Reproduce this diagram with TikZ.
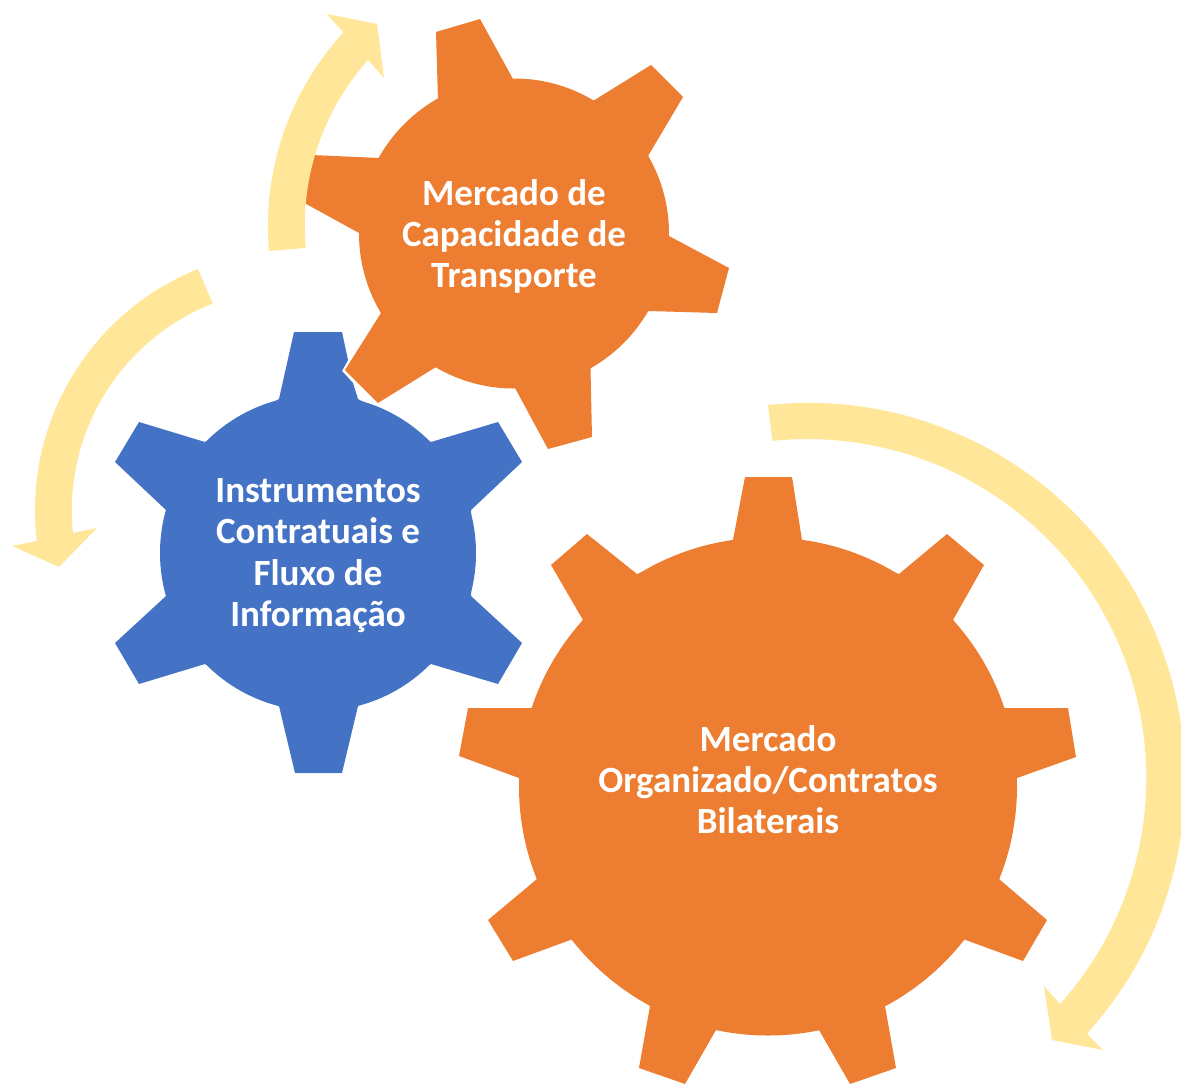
\documentclass[tikz,border=0pt]{standalone}
\usepackage{fontspec}
\setmainfont{Carlito}
\definecolor{gearorange}{HTML}{ED7D31}
\definecolor{gearblue}{HTML}{4472C4}
\definecolor{arrowgold}{HTML}{FFE699}
\tikzset{
  orangegear/.style={fill=gearorange},
  bluegear/.style={fill=gearblue},
  goldarrow/.style={fill=arrowgold},
  gearlabel/.style={text=white,align=center,inner sep=0pt,
    font=\fontsize{37}{41.3}\selectfont\bfseries}
}
\begin{document}
\begin{tikzpicture}[x=1pt,y=-1pt]
\clip (0,0) rectangle (1181,1084);
% gear top
\fill[orangegear] (514,233.5) circle [radius=155];
\fill[orangegear] (436,32) -- (480,19) -- (513,79) -- (593,101) -- (651,65) -- (683,97) -- (648,156)
  -- (669,236) -- (729,268) -- (717,313) -- (648.5,311) -- (590.5,368.5) -- (592,437) -- (548,449) -- (515,388)
  -- (436,367) -- (378,403) -- (345,370) -- (381,313) -- (359,233) -- (299,200) -- (311,155) -- (380,158) -- (438,100) -- cycle;
% gear blue
\fill[bluegear] (318,553) circle [radius=158];
\fill[bluegear] (279,399) -- (294,332) -- (342,332) -- (348,360) -- (342,371) -- (353,383) -- (358,399)
  -- (431,442) -- (498,422) -- (522,462) -- (471,510) -- (471,596) -- (522,643) -- (498,684) -- (431,664)
  -- (358,706) -- (342,773) -- (295,773) -- (279,706) -- (205,664) -- (139,684) -- (115,643) -- (166,596)
  -- (166,510) -- (115,462) -- (139,422) -- (205,442) -- cycle;
% gear large
\fill[orangegear] (768,786.5) circle [radius=249];
\fill[orangegear] (733,540) -- (745,477) -- (792,477) -- (802,540) -- (899,574) -- (947,534) -- (984,565) -- (953,620)
  -- (1004,708) -- (1068,708) -- (1076,757) -- (1017,778) -- (999,879) -- (1047,920) -- (1023,961) -- (963,939)
  -- (885,1006) -- (896,1068) -- (850,1084) -- (819,1030) -- (716,1030) -- (685,1084) -- (639,1068) -- (650,1006)
  -- (573,939) -- (513,961) -- (488,920) -- (537,879) -- (519,778) -- (459,756) -- (468,708) -- (532,708)
  -- (583,620) -- (551,565) -- (587,534) -- (637,574) -- cycle;
% arrows
\fill[goldarrow] (269,251) arc [start angle=175,end angle=222.6,radius=286]
  -- (327,14) -- (377,24) -- (384,78) -- (368,60) arc [start angle=221.75,end angle=174.9,radius=249] -- cycle;
\fill[goldarrow] (198,269) arc [start angle=248.1,end angle=173.2,radius=260]
  -- (12,546) -- (59,567) -- (97,528) -- (73,533) arc [start angle=174.1,end angle=248.06,radius=222] -- (213,304) -- cycle;
\fill[goldarrow] (768,405) arc [start angle=-96.1,end angle=42.3,radius=377]
  -- (1103,1050) -- (1052,1040) -- (1044,986) -- (1060,1004) arc [start angle=41.8,end angle=-95.9,radius=339] -- cycle;
% labels
\node[gearlabel] (capacidade) at (514,236.5) {Mercado de\\Capacidade de\\Transporte};
\node[gearlabel] (instrumentos) at (318,555.5) {Instrumentos\\Contratuais e\\Fluxo de\\Informação};
\node[gearlabel] (organizado) at (768,779.5) {Mercado\\Organizado/Contratos\\Bilaterais};
\end{tikzpicture}
\end{document}
